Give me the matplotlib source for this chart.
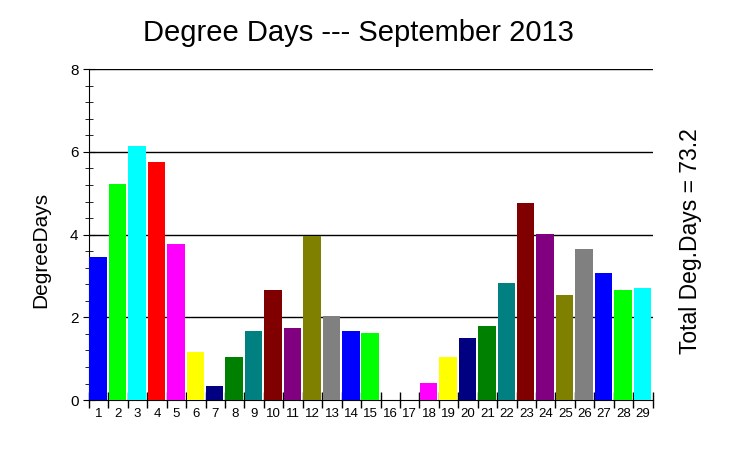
import numpy as np
import matplotlib.pyplot as plt
from matplotlib.ticker import MultipleLocator

plt.rcParams['font.family'] = ['Liberation Sans', 'DejaVu Sans']

days = list(range(1, 30))
degree_days = [3.45, 5.22, 6.14, 5.75, 3.77, 1.15, 0.35, 1.05, 1.68, 2.67,
               1.73, 3.96, 2.04, 1.66, 1.63, 0.0, 0.0, 0.42, 1.03, 1.51,
               1.80, 2.82, 4.76, 4.01, 2.55, 3.64, 3.06, 2.65, 2.70]
palette = ['#0000ff', '#00ff00', '#00ffff', '#ff0000', '#ff00ff', '#ffff00',
           '#000080', '#008000', '#008080', '#800000', '#800080', '#808000',
           '#808080']
total = 73.2

fig = plt.figure(figsize=(7.35, 4.49), dpi=100)
ax = fig.add_axes([0.121, 0.109, 0.767, 0.737])

x = np.array(days)
colors = [palette[i % len(palette)] for i in range(len(days))]
ax.bar(x - 0.48, degree_days, width=0.9, align='edge', color=colors, zorder=3)

ax.set_xlim(0.5, 29.5)
ax.set_ylim(0, 8)
for y in [2, 4, 6, 8]:
    ax.axhline(y, color='black', lw=1, zorder=2)

ax.spines['top'].set_visible(False)
ax.spines['right'].set_visible(False)

# ticks at slot boundaries, labels centred under bars
ax.set_xticks(np.arange(0.5, 30, 1))
ax.set_xticklabels([])
ax.set_xticks(x, minor=True)
ax.set_xticklabels([str(d) for d in days], minor=True, fontsize=9.5)
ax.tick_params(axis='x', which='major', direction='inout', length=12, width=1)
ax.tick_params(axis='x', which='minor', length=0, pad=6)

ax.yaxis.set_major_locator(MultipleLocator(2))
ax.yaxis.set_minor_locator(MultipleLocator(0.4))
ax.tick_params(axis='y', which='major', direction='inout', length=8, labelsize=11)
ax.tick_params(axis='y', which='minor', direction='inout', length=6)

fig.text(0.056, 0.443, 'DegreeDays', rotation=90, fontsize=15,
         ha='center', va='center')
fig.text(0.488, 0.926, 'Degree Days --- September 2013', fontsize=21,
         ha='center', va='center')
fig.text(0.939, 0.463, 'Total Deg.Days = %.1f' % total, rotation=90,
         fontsize=16.5, ha='center', va='center')

fig.savefig('out.png', dpi=100)
